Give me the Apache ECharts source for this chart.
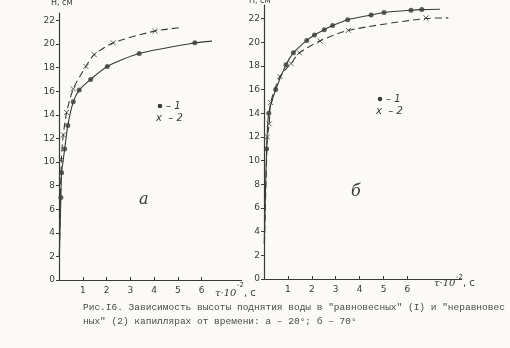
<!DOCTYPE html>
<html><head><meta charset="utf-8">
<script src="https://cdn.jsdelivr.net/npm/echarts@6/dist/echarts.min.js"></script>
<style>html,body{margin:0;padding:0;background:#fbfaf6;}#c{width:510px;height:348px;}</style>
</head><body><div id="c"></div>
<script>
// ticks
const xTicks = [1, 2, 3, 4, 5, 6];
const yTicks = [0, 2, 4, 6, 8, 10, 12, 14, 16, 18, 20, 22];

// panel а (20°): series 1 = dots (solid), series 2 = crosses (dashed)
const aDotT   = [0.08, 0.11, 0.24, 0.37, 0.60, 0.85, 1.33, 2.03, 3.37, 5.71];
const aDotH   = [7.0, 9.1, 11.1, 13.1, 15.1, 16.1, 17.0, 18.1, 19.2, 20.1];
const aCrossT = [0.10, 0.18, 0.32, 0.60, 1.13, 1.48, 2.28, 4.03];
const aCrossH = [10.2, 12.3, 14.2, 16.2, 18.1, 19.1, 20.1, 21.1];
const aSolidT = [0.01, 0.08, 0.11, 0.24, 0.37, 0.60, 0.85, 1.33, 2.03, 3.37, 5.71, 6.43];
const aSolidH = [2.0, 7.0, 9.1, 11.1, 13.1, 15.1, 16.1, 17.0, 18.1, 19.2, 20.1, 20.25];
const aDashT  = [0.02, 0.10, 0.18, 0.32, 0.60, 1.13, 1.48, 2.28, 4.03, 5.16];
const aDashH  = [2.5, 10.2, 12.3, 14.2, 16.2, 18.1, 19.1, 20.1, 21.1, 21.4];

// panel б (70°)
const bDotT   = [0.11, 0.20, 0.49, 0.92, 1.23, 1.79, 2.11, 2.52, 2.87, 3.50, 4.48, 5.02, 6.15, 6.60];
const bDotH   = [11.0, 14.0, 16.0, 18.1, 19.1, 20.15, 20.6, 21.05, 21.4, 21.9, 22.3, 22.5, 22.7, 22.75];
const bCrossT = [0.14, 0.22, 0.28, 0.67, 1.13, 1.48, 2.34, 3.53, 6.78];
const bCrossH = [12.0, 13.1, 14.9, 17.1, 18.2, 19.1, 20.1, 21.0, 22.05];
const bSolidT = [0.01, 0.11, 0.20, 0.49, 0.92, 1.23, 1.79, 2.11, 2.52, 2.87, 3.50, 4.48, 5.02, 6.15, 6.60, 7.36];
const bSolidH = [3.0, 11.0, 14.0, 16.0, 18.1, 19.1, 20.15, 20.6, 21.05, 21.4, 21.9, 22.3, 22.5, 22.7, 22.75, 22.78];
const bDashT  = [0.02, 0.14, 0.22, 0.28, 0.67, 1.13, 1.48, 2.34, 3.53, 6.78, 7.71];
const bDashH  = [3.0, 12.0, 13.1, 14.9, 17.1, 18.2, 19.1, 20.1, 21.0, 22.0, 22.05];

const zip = (t, h) => t.map((v, i) => [v, h[i]]);
const ink = '#3a3a3a';
const crossPath = 'path://M0,0L10,10M10,0L0,10';

function xAxisCfg(gi, max) {
  return {
    gridIndex: gi, type: 'value', min: 0, max: max,
    axisLine: { show: true, lineStyle: { color: ink, width: 1.2 } },
    axisTick: { show: true, inside: true, length: 3, customValues: xTicks, lineStyle: { color: ink } },
    axisLabel: { customValues: xTicks, color: ink, fontSize: 9, margin: 6, fontFamily: 'DejaVu Sans' },
    splitLine: { show: false }
  };
}
function yAxisCfg(gi, max) {
  return {
    gridIndex: gi, type: 'value', min: 0, max: max,
    axisLine: { show: true, onZero: false, lineStyle: { color: ink, width: 1.2 } },
    axisTick: { show: true, inside: false, length: 3, customValues: yTicks, lineStyle: { color: ink } },
    axisLabel: { customValues: yTicks, color: ink, fontSize: 9, margin: 4, fontFamily: 'DejaVu Sans' },
    splitLine: { show: false }
  };
}
function lineSeries(gi, t, h, dashed) {
  return {
    type: 'line', xAxisIndex: gi, yAxisIndex: gi, data: zip(t, h),
    smooth: 0.25, showSymbol: false, silent: true,
    lineStyle: { color: ink, width: 1.1, type: dashed ? [7, 4] : 'solid' }, z: 2
  };
}
function dotSeries(gi, t, h) {
  return { type: 'scatter', name: '1', xAxisIndex: gi, yAxisIndex: gi, data: zip(t, h),
    symbol: 'circle', symbolSize: 5, itemStyle: { color: ink }, z: 3 };
}
function crossSeries(gi, t, h) {
  return { type: 'scatter', name: '2', xAxisIndex: gi, yAxisIndex: gi, data: zip(t, h),
    symbol: crossPath, symbolSize: 5,
    itemStyle: { color: 'transparent', borderColor: ink, borderWidth: 1 }, z: 3 };
}
function txt(x, y, text, size, opts) {
  return Object.assign({ type: 'text', x: x, y: y, silent: true,
    style: Object.assign({ text: text, fontSize: size, fill: ink, fontFamily: 'DejaVu Sans',
      textVerticalAlign: 'middle' }, (opts || {})) });
}
function dot(x, y) {
  return { type: 'circle', silent: true, shape: { cx: x, cy: y, r: 2.3 }, style: { fill: ink } };
}

const chart = echarts.init(document.getElementById('c'), null, { renderer: 'canvas' });
chart.setOption({
  backgroundColor: '#fbfaf6',
  animation: false,
  grid: [
    { left: 59, top: 13, width: 182.7, height: 267 },
    { left: 264, top: 5, width: 197.7, height: 274 }
  ],
  xAxis: [xAxisCfg(0, 7.68), xAxisCfg(1, 8.27)],
  yAxis: [yAxisCfg(0, 22.63), yAxisCfg(1, 23.14)],
  series: [
    lineSeries(0, aSolidT, aSolidH, false),
    lineSeries(0, aDashT, aDashH, true),
    dotSeries(0, aDotT, aDotH),
    crossSeries(0, aCrossT, aCrossH),
    lineSeries(1, bSolidT, bSolidH, false),
    lineSeries(1, bDashT, bDashH, true),
    dotSeries(1, bDotT, bDotH),
    crossSeries(1, bCrossT, bCrossH)
  ],
  graphic: [
    // y-axis names
    txt(51, 3, 'Н, см', 8),
    txt(249, 1, 'Н, см', 8),
    // legends
    dot(160, 106),
    txt(166, 106, '– 1', 10, { fontStyle: 'italic' }),
    txt(156, 118, 'x  – 2', 10, { fontStyle: 'italic' }),
    dot(380, 99),
    txt(386, 99, '– 1', 10, { fontStyle: 'italic' }),
    txt(376, 111, 'x  – 2', 10, { fontStyle: 'italic' }),
    // panel letters
    txt(139, 200, 'а', 16, { fontStyle: 'italic', fontFamily: 'DejaVu Serif' }),
    txt(351, 192, 'б', 16, { fontStyle: 'italic', fontFamily: 'DejaVu Serif' }),
    // x-axis names
    txt(215, 293, 'τ·10', 10, { fontStyle: 'italic', fontFamily: 'DejaVu Serif' }),
    txt(237, 285, '-2', 7),
    txt(244, 293, ', с', 10),
    txt(434, 283, 'τ·10', 10, { fontStyle: 'italic', fontFamily: 'DejaVu Serif' }),
    txt(456, 277, '-2', 7),
    txt(463, 283, ', с', 10),
    // caption
    txt(83, 307, 'Рис.I6. Зависимость высоты поднятия воды в "равновесных" (I) и "неравновес', 9.5,
      { fontFamily: 'Liberation Mono', fill: '#4a4a4a' }),
    txt(83, 321, 'ных" (2) капиллярах от времени: а – 20°; б – 70°', 9.5,
      { fontFamily: 'Liberation Mono', fill: '#4a4a4a' })
  ]
});
</script>
</body></html>
